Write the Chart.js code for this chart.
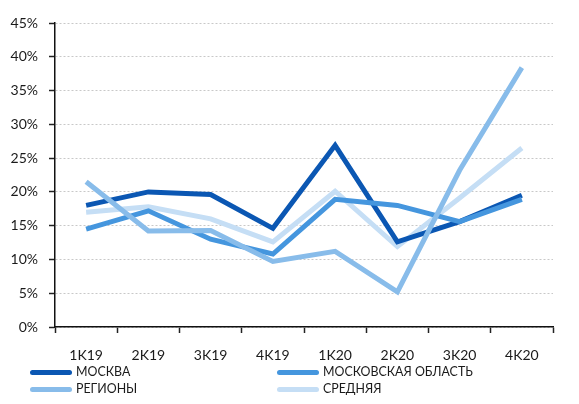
<!DOCTYPE html>
<html>
<head>
<meta charset="utf-8">
<script src="https://cdn.jsdelivr.net/npm/chart.js@4"></script>
<style>
  html, body { margin: 0; padding: 0; background: #fff; }
  #wrap { position: relative; width: 579px; height: 404px; }
  canvas { position: absolute; left: 0; top: 0; }
  .leg { position: absolute; font-family: Lato, "Open Sans", sans-serif; font-size: 12.4px; color: #1a1a1a; white-space: nowrap; line-height: 16px; }
  .leg .sw { position: absolute; width: 42px; height: 5px; border-radius: 3px; top: 6px; }
  .leg .tx { position: absolute; left: 46px; top: 0; }
</style>
</head>
<body>
<div id="wrap">
  <canvas id="c" width="579" height="404"></canvas>
  <div id="legend"></div>
</div>
<script>
const categories = ["1K19", "2K19", "3K19", "4K19", "1K20", "2K20", "3K20", "4K20"];
const seriesNames = ["МОСКВА", "МОСКОВСКАЯ ОБЛАСТЬ", "РЕГИОНЫ", "СРЕДНЯЯ"];
const moskva = [18.0, 20.0, 19.6, 14.6, 26.9, 12.6, 15.6, 19.5];
const moskObl = [14.5, 17.2, 13.0, 10.8, 18.9, 18.0, 15.6, 18.9];
const regiony = [21.5, 14.2, 14.3, 9.7, 11.2, 5.2, 23.2, 38.4];
const srednyaya = [17.0, 17.8, 16.0, 12.6, 20.1, 11.9, 19.1, 26.5];
const yTicks = [0, 5, 10, 15, 20, 25, 30, 35, 40, 45];

const colors = ["#0b57b3", "#4596de", "#88bcea", "#c5def5"];
const seriesData = [moskva, moskObl, regiony, srednyaya];
const drawOrder = [2, 1, 0, 3];

const FONT = "Lato, 'Open Sans', sans-serif";

new Chart(document.getElementById("c"), {
  type: "line",
  data: {
    labels: categories,
    datasets: seriesData.map((d, i) => ({
      label: seriesNames[i],
      data: d,
      borderColor: colors[i],
      backgroundColor: colors[i],
      borderWidth: 5,
      pointRadius: 0,
      pointHoverRadius: 0,
      tension: 0,
      fill: false,
      order: drawOrder[i]
    }))
  },
  options: {
    responsive: false,
    animation: false,
    devicePixelRatio: 1,
    layout: { padding: { left: 0, right: 26, top: 23, bottom: 40 } },
    plugins: { legend: { display: false }, tooltip: { enabled: false } },
    scales: {
      x: {
        type: "category",
        offset: true,
        grid: { offset: true, drawOnChartArea: false, drawTicks: true, tickLength: 6, tickColor: "#222", tickWidth: 1.5 },
        border: { display: true, color: "#111", width: 1.5 },
        ticks: { color: "#1a1a1a", font: { family: FONT, size: 14 }, padding: 14, maxRotation: 0 },
        afterFit: s => { s.height = 37; }
      },
      y: {
        min: 0, max: 45,
        afterBuildTicks: s => { s.ticks = yTicks.map(v => ({ value: v })); },
        grid: { color: "#c8c8c8", lineWidth: 1, tickColor: "#222", tickLength: 6, tickWidth: 1.5, tickBorderDash: [] },
        border: { display: true, color: "#111", width: 1.5, dash: [2, 2] },
        ticks: { color: "#1a1a1a", font: { family: FONT, size: 14 }, padding: 11, callback: v => v + "%" },
        afterFit: s => { s.width = 55; }
      }
    }
  }
});

// HTML legend in two columns
const legPos = [[30, 364], [277, 364], [30, 381], [277, 381]];
const legendOrder = [0, 1, 2, 3];
const legEl = document.getElementById("legend");
legendOrder.forEach((i, k) => {
  const d = document.createElement("div");
  d.className = "leg";
  d.style.left = legPos[k][0] + "px";
  d.style.top = legPos[k][1] + "px";
  const sw = document.createElement("div");
  sw.className = "sw";
  sw.style.background = colors[i];
  const tx = document.createElement("div");
  tx.className = "tx";
  tx.textContent = seriesNames[i];
  d.appendChild(sw); d.appendChild(tx);
  legEl.appendChild(d);
});
</script>
</body>
</html>
